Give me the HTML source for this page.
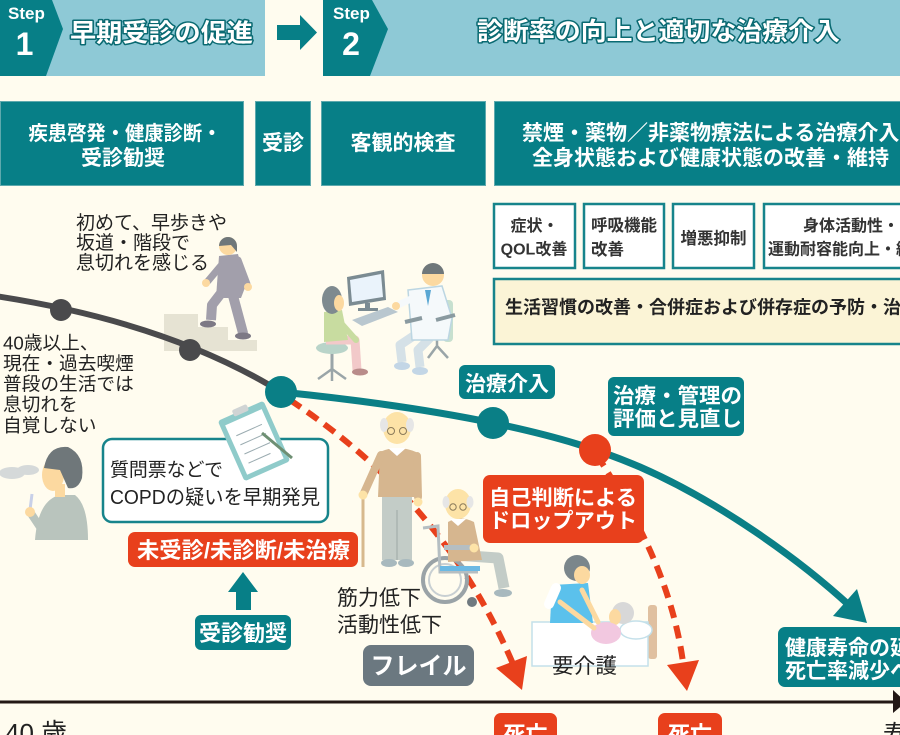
<!DOCTYPE html>
<html><head><meta charset="utf-8">
<style>
html,body{margin:0;padding:0;background:#fffcef;}
svg{display:block;}
text{font-family:"Liberation Sans","Noto Sans CJK JP",sans-serif;}
.w{fill:#fff;font-weight:bold;}
.hd{fill:#fff;font-weight:bold;stroke:#0a6a72;stroke-width:3;paint-order:stroke;stroke-linejoin:round;}
.k{fill:#222;}
.g{fill:#333;font-weight:bold;}
</style></head><body>
<svg width="900" height="735" viewBox="0 0 900 735" xmlns="http://www.w3.org/2000/svg">
<rect width="900" height="735" fill="#fffcef"/>

<!-- HEADER -->
<rect x="40" y="0" width="225" height="76" fill="#8ec9d6"/>
<polygon points="0,0 52,0 63,29 46,76 0,76" fill="#077f87"/>
<text x="8" y="19" class="w" font-size="17">Step</text>
<text x="24.5" y="55" class="w" font-size="32" text-anchor="middle">1</text>
<text x="70" y="41.5" class="hd" font-size="25" textLength="183" lengthAdjust="spacingAndGlyphs">早期受診の促進</text>

<polygon points="277,25 300,25 300,15 317,32.5 300,50 300,40 277,40" fill="#077f87"/>

<rect x="360" y="0" width="540" height="76" fill="#8ec9d6"/>
<polygon points="323,0 372,0 388,29 370,76 323,76" fill="#077f87"/>
<text x="333" y="19" class="w" font-size="17">Step</text>
<text x="351" y="55" class="w" font-size="32" text-anchor="middle">2</text>
<text x="477" y="40" class="hd" font-size="25" textLength="363" lengthAdjust="spacingAndGlyphs">診断率の向上と適切な治療介入</text>

<!-- ROW 2 -->
<g fill="#077f87" stroke="#5ea9ad" stroke-width="1">
<rect x="0.5" y="101.5" width="243" height="84"/>
<rect x="255.5" y="101.5" width="55" height="84"/>
<rect x="321.5" y="101.5" width="164" height="84"/>
<rect x="494.5" y="101.5" width="420" height="84"/>
</g>
<text x="125" y="140" class="w" font-size="20" text-anchor="middle" textLength="193" lengthAdjust="spacingAndGlyphs">疾患啓発・健康診断・</text>
<text x="123" y="165" class="w" font-size="21" text-anchor="middle">受診勧奨</text>
<text x="283" y="150" class="w" font-size="21" text-anchor="middle">受診</text>
<text x="403" y="150" class="w" font-size="21" text-anchor="middle">客観的検査</text>
<text x="522" y="140" class="w" font-size="21">禁煙・薬物／非薬物療法による治療介入</text>
<text x="532" y="165" class="w" font-size="21">全身状態および健康状態の改善・維持</text>

<!-- ROW 3 -->
<g fill="#fff" stroke="#17848b" stroke-width="2.5">
<rect x="494" y="204" width="81" height="64"/>
<rect x="584" y="204" width="80" height="64"/>
<rect x="673" y="204" width="81" height="64"/>
<rect x="764" y="204" width="160" height="64"/>
<rect x="494" y="279" width="430" height="65" fill="#fbf4d6"/>
</g>
<text x="534.5" y="231" class="g" font-size="16" text-anchor="middle">症状・</text>
<text x="534" y="254.5" class="g" font-size="16" text-anchor="middle">QOL改善</text>
<text x="591" y="231" class="g" font-size="16.5">呼吸機能</text>
<text x="591" y="255" class="g" font-size="16.5">改善</text>
<text x="713.5" y="244" class="g" font-size="16.5" text-anchor="middle">増悪抑制</text>
<text x="803" y="231" class="g" font-size="16">身体活動性・</text>
<text x="768" y="254.5" class="g" font-size="16">運動耐容能向上・維持</text>
<text x="505" y="313.5" font-size="18" font-weight="bold" fill="#222">生活習慣の改善・合併症および併存症の予防・治療</text>

<!-- LEFT TEXTS -->
<text x="76" y="229" class="k" font-size="19">初めて、早歩きや</text>
<text x="76" y="249" class="k" font-size="19">坂道・階段で</text>
<text x="76" y="269" class="k" font-size="19">息切れを感じる</text>

<text x="3" y="349.5" class="k" font-size="18.7">40歳以上、</text>
<text x="3" y="370" class="k" font-size="18.7">現在・過去喫煙</text>
<text x="3" y="390.5" class="k" font-size="18.7">普段の生活では</text>
<text x="3" y="411" class="k" font-size="18.7">息切れを</text>
<text x="3" y="432" class="k" font-size="18.7">自覚しない</text>

<!-- STAIRS + WALKER -->
<polygon points="164,314 198,314 198,327 228,327 228,340 257,340 257,351 164,351" fill="#e6e3d3"/>
<path d="M232,292 L243,333" stroke="#a29fab" stroke-width="10" stroke-linecap="round"/>
<ellipse cx="243" cy="336" rx="8" ry="3.5" fill="#7d7985"/>
<path d="M222,292 L212,305 L211,320" stroke="#a29fab" stroke-width="10" fill="none" stroke-linejoin="round"/>
<ellipse cx="208" cy="324" rx="8" ry="3.5" fill="#7d7985"/>
<path d="M219,256 L238,254 L246,285 L241,298 L216,298 Z" fill="#a29fab"/>
<path d="M224,262 L208,281" stroke="#a29fab" stroke-width="7" stroke-linecap="round"/>
<path d="M238,260 L247,284" stroke="#a29fab" stroke-width="7" stroke-linecap="round"/>
<circle cx="206" cy="283" r="4" fill="#fcd9a0"/>
<circle cx="248" cy="287" r="4" fill="#fcd9a0"/>
<circle cx="228" cy="246" r="9" fill="#fcd9a0"/>
<path d="M219,246 A9,9 0 1 1 237,246 L237,252 L231,245 Z" fill="#6f777a"/>

<!-- DOCTOR SCENE -->
<line x1="332" y1="350" x2="332" y2="370" stroke="#9aa5a8" stroke-width="3"/>
<path d="M318,379 L332,369 L346,379 M332,369 L332,381" stroke="#9aa5a8" stroke-width="2.5" fill="none"/>
<ellipse cx="332" cy="348" rx="16" ry="6" fill="#b9d4c9"/>
<path d="M326,340 L355,340 L357,370" stroke="#f2c9c9" stroke-width="9" fill="none" stroke-linejoin="round"/>
<path d="M324,312 L342,310 L348,340 L324,342 Z" fill="#c8dca0"/>
<path d="M340,322 L356,340" stroke="#c8dca0" stroke-width="6" stroke-linecap="round"/>
<ellipse cx="360" cy="372" rx="8" ry="3.5" fill="#b98c8a"/>
<ellipse cx="332" cy="300" rx="10" ry="14" fill="#7e8a8f"/>
<ellipse cx="339" cy="303" rx="5" ry="8" fill="#fcd9a0"/>
<polygon points="347,277 384,270 386,300 349,306" fill="#7b8b92"/>
<polygon points="350,280 381,274 383,297 352,302" fill="#eaf3fb"/>
<rect x="365" y="303" width="5" height="6" fill="#7b8b92"/>
<rect x="358" y="308" width="20" height="3" fill="#7b8b92"/>
<polygon points="352,320 388,307 398,312 362,326" fill="#b9c7cf"/>
<rect x="443" y="300" width="10" height="42" rx="4" fill="#c7e0cf"/>
<path d="M428,358 L437,346 L448,358 M437,346 L437,338" stroke="#9aa5a8" stroke-width="2.5" fill="none"/>
<path d="M415,335 L400,345 L402,362 M430,338 L418,350 L420,367" stroke="#d5e1e7" stroke-width="9" fill="none" stroke-linejoin="round"/>
<path d="M408,290 L442,286 L452,318 L448,340 L412,340 Z" fill="#f5f9fb" stroke="#bcd6e2" stroke-width="1.5"/>
<path d="M411,299 L398,305" stroke="#f5f9fb" stroke-width="7" stroke-linecap="round"/>
<circle cx="396" cy="306" r="4" fill="#fcd9a0"/>
<path d="M425,290 L428,306 L431,290 Z" fill="#5aa7d3"/>
<line x1="405" y1="322" x2="422" y2="318" stroke="#8a9aa0" stroke-width="4"/>
<line x1="436" y1="320" x2="455" y2="315" stroke="#8a9aa0" stroke-width="4"/>
<ellipse cx="402" cy="366" rx="8" ry="4" fill="#c3d6e6"/>
<ellipse cx="420" cy="371" rx="8" ry="4" fill="#c3d6e6"/>
<circle cx="433" cy="275" r="11" fill="#fcd9a0"/>
<path d="M422,274 A11,11 0 0 1 444,274 Z" fill="#6f777a"/>

<!-- SMOKER -->
<ellipse cx="12" cy="473" rx="13" ry="6" fill="#d5d9d9"/>
<ellipse cx="28" cy="470" rx="11" ry="5" fill="#d5d9d9"/>
<path d="M35,540 Q38,500 60,495 L75,495 Q88,505 88,540 Z" fill="#b9c4bd"/>
<path d="M42,530 L30,512" stroke="#b9c4bd" stroke-width="8" stroke-linecap="round"/>
<line x1="32" y1="494" x2="30" y2="510" stroke="#c8d0e8" stroke-width="3"/>
<circle cx="30" cy="512" r="5" fill="#fcd9a0"/>
<rect x="55" y="484" width="10" height="13" fill="#fcd9a0"/>
<ellipse cx="53" cy="475" rx="11" ry="16" fill="#fcd9a0"/>
<path d="M44,468 Q48,445 68,447 Q85,455 82,478 Q78,490 68,488 L60,470 Z" fill="#6f777a"/>

<!-- CURVES -->
<path d="M-5,296 C100,312 200,342 281,392" fill="none" stroke="#4a4a4c" stroke-width="6"/>
<path d="M281,392 C360,400 430,410 493,423 C560,437 600,450 640,467 C720,502 800,560 850,606" fill="none" stroke="#0a7f86" stroke-width="7"/>
<polygon points="833,616 857,589 867,623" fill="#0a7f86"/>

<!-- red dashed -->
<path d="M290,400 C380,460 460,540 513,664" fill="none" stroke="#e8401c" stroke-width="6" stroke-dasharray="13 8"/>
<polygon points="496,668 527,656 522,690" fill="#e8401c"/>
<path d="M597,455 C625,500 670,570 683,662" fill="none" stroke="#e8401c" stroke-width="6" stroke-dasharray="13 8"/>
<polygon points="667,665 699,660 687,691" fill="#e8401c"/>

<!-- dots -->
<circle cx="61" cy="310" r="11" fill="#4a4a4c"/>
<circle cx="190" cy="350" r="11" fill="#4a4a4c"/>
<circle cx="281" cy="392" r="16" fill="#0a7f86"/>
<circle cx="493" cy="423" r="16" fill="#0a7f86"/>
<circle cx="595" cy="450" r="16" fill="#e8401c"/>

<!-- OLD MAN STANDING -->
<line x1="363" y1="497" x2="363" y2="567" stroke="#d7b98d" stroke-width="3"/>
<rect x="382" y="495" width="30" height="65" fill="#c3ccc7"/>
<line x1="397" y1="510" x2="397" y2="560" stroke="#aab5b0" stroke-width="1.5"/>
<ellipse cx="389" cy="563" rx="8" ry="4" fill="#a8b9be"/>
<ellipse cx="406" cy="563" rx="8" ry="4" fill="#a8b9be"/>
<path d="M380,452 Q397,444 416,452 L422,497 L378,497 Z" fill="#d6b68f"/>
<path d="M381,455 L364,493" stroke="#d6b68f" stroke-width="8" stroke-linecap="round"/>
<path d="M417,456 L418,497" stroke="#d6b68f" stroke-width="8" stroke-linecap="round"/>
<circle cx="363" cy="495" r="4.5" fill="#fde3a7"/>
<circle cx="418" cy="502" r="4.5" fill="#fde3a7"/>
<polygon points="388,448 397,456 406,448" fill="#fff"/>
<ellipse cx="397" cy="428" rx="14" ry="16" fill="#fde3a7"/>
<ellipse cx="384" cy="425" rx="4" ry="7" fill="#e6e6e6"/>
<ellipse cx="410" cy="425" rx="4" ry="7" fill="#e6e6e6"/>
<circle cx="391" cy="431" r="3.5" fill="none" stroke="#8a7a5a" stroke-width="1"/>
<circle cx="403" cy="431" r="3.5" fill="none" stroke="#8a7a5a" stroke-width="1"/>

<!-- WHEELCHAIR MAN -->
<circle cx="445" cy="580" r="22" fill="none" stroke="#9aa3a7" stroke-width="4"/>
<circle cx="445" cy="580" r="16" fill="none" stroke="#c8cfd2" stroke-width="2"/>
<path d="M423,528 L438,526 L440,572 L478,572" stroke="#b5bec2" stroke-width="3" fill="none"/>
<rect x="440" y="566" width="40" height="5" fill="#6bb9e3"/>
<circle cx="472" cy="602" r="5" fill="#707a80"/>
<path d="M455,555 L498,558 L504,588" stroke="#c3ccc7" stroke-width="11" fill="none" stroke-linejoin="round"/>
<ellipse cx="503" cy="593" rx="9" ry="4" fill="#a8b9be"/>
<path d="M448,522 Q460,515 474,522 L482,560 L448,562 Z" fill="#d6b68f"/>
<rect x="444" y="545" width="34" height="5" fill="#b5bec2"/>
<circle cx="474" cy="548" r="4.5" fill="#fde3a7"/>
<polygon points="450,519 458,526 466,519" fill="#fff"/>
<ellipse cx="458" cy="504" rx="13" ry="15" fill="#fde3a7"/>
<ellipse cx="446" cy="502" rx="3.5" ry="6" fill="#e6e6e6"/>
<ellipse cx="470" cy="502" rx="3.5" ry="6" fill="#e6e6e6"/>
<circle cx="453" cy="507" r="3.2" fill="none" stroke="#8a7a5a" stroke-width="1"/>
<circle cx="463" cy="507" r="3.2" fill="none" stroke="#8a7a5a" stroke-width="1"/>

<!-- CAREGIVER -->
<rect x="648" y="605" width="9" height="54" rx="3" fill="#e0c0a0"/>
<rect x="532" y="622" width="116" height="44" fill="#fff" stroke="#c4e0ea" stroke-width="1.5"/>
<ellipse cx="636" cy="630" rx="16" ry="9" fill="#fff" stroke="#c4e0ea" stroke-width="1.5"/>
<circle cx="623" cy="613" r="11" fill="#d8d8d8"/>
<ellipse cx="615" cy="617" rx="6" ry="8" fill="#fcd9a0"/>
<ellipse cx="606" cy="633" rx="15" ry="11" fill="#f2c8e0"/>
<path d="M552,585 L588,583 L593,623 L550,623 Z" fill="#5bc1ec"/>
<path d="M556,588 L549,604" stroke="#fff" stroke-width="10" stroke-linecap="round"/>
<path d="M582,590 L598,622" stroke="#fcd9a0" stroke-width="5" stroke-linecap="round"/>
<path d="M560,602 L594,628" stroke="#fcd9a0" stroke-width="5" stroke-linecap="round"/>
<circle cx="577" cy="568" r="13" fill="#7b868b"/>
<ellipse cx="582" cy="575" rx="8" ry="9" fill="#fcd9a0"/>

<!-- COPD BOX + CLIPBOARD -->
<rect x="103" y="439" width="225" height="83" rx="9" fill="#fff" stroke="#17848b" stroke-width="2.5"/>
<text x="110" y="476" class="k" font-size="19" textLength="113" lengthAdjust="spacingAndGlyphs">質問票などで</text>
<text x="110" y="504" class="k" font-size="20" textLength="210" lengthAdjust="spacingAndGlyphs">COPDの疑いを早期発見</text>
<g transform="translate(254,441) rotate(-24)">
<rect x="-25" y="-33" width="50" height="66" rx="3" fill="#8fcbca"/>
<rect x="-20" y="-26" width="40" height="54" fill="#fff"/>
<line x1="-14" y1="-12" x2="14" y2="-12" stroke="#9aabb0" stroke-width="1"/>
<line x1="-14" y1="-2" x2="14" y2="-2" stroke="#9aabb0" stroke-width="1"/>
<line x1="-14" y1="8" x2="14" y2="8" stroke="#9aabb0" stroke-width="1"/>
<line x1="-14" y1="18" x2="10" y2="18" stroke="#9aabb0" stroke-width="1"/>
<rect x="-8" y="-37" width="16" height="7" rx="2" fill="#d0d4d4"/>
</g>
<line x1="262" y1="433" x2="292" y2="458" stroke="#6e8f73" stroke-width="3"/>

<!-- LABELS -->
<rect x="128" y="532" width="230" height="35" rx="7" fill="#e8401c"/>
<text x="137" y="558" class="w" font-size="22" textLength="213" lengthAdjust="spacingAndGlyphs">未受診/未診断/未治療</text>
<polygon points="243,572 258,592 251,592 251,610 236,610 236,592 228,592" fill="#077f87"/>
<rect x="195" y="615" width="96" height="35" rx="6" fill="#077f87"/>
<text x="243" y="641" class="w" font-size="22" text-anchor="middle">受診勧奨</text>

<text x="337" y="605" class="k" font-size="21">筋力低下</text>
<text x="337" y="632" class="k" font-size="21">活動性低下</text>
<rect x="363" y="645" width="111" height="41" rx="8" fill="#6b7880"/>
<text x="418.5" y="674" class="w" font-size="24" text-anchor="middle">フレイル</text>

<rect x="459" y="365" width="96" height="34" rx="6" fill="#077f87"/>
<text x="507" y="391" class="w" font-size="21" text-anchor="middle">治療介入</text>
<rect x="608" y="377" width="136" height="59" rx="6" fill="#077f87"/>
<text x="613" y="403" class="w" font-size="21" textLength="129" lengthAdjust="spacingAndGlyphs">治療・管理の</text>
<text x="613" y="426" class="w" font-size="21" textLength="129" lengthAdjust="spacingAndGlyphs">評価と見直し</text>
<rect x="483" y="475" width="161" height="68" rx="7" fill="#e8401c"/>
<text x="489" y="505" class="w" font-size="21" textLength="148" lengthAdjust="spacingAndGlyphs">自己判断による</text>
<text x="489" y="528" class="w" font-size="21" textLength="148" lengthAdjust="spacingAndGlyphs">ドロップアウト</text>
<rect x="778" y="627" width="140" height="60" rx="7" fill="#077f87"/>
<text x="785" y="655" class="w" font-size="21">健康寿命の延伸</text>
<text x="785" y="678" class="w" font-size="21">死亡率減少へ</text>
<text x="552" y="673" class="k" font-size="21" textLength="65" lengthAdjust="spacingAndGlyphs">要介護</text>

<!-- AXIS -->
<line x1="0" y1="702" x2="894" y2="702" stroke="#231815" stroke-width="3"/>
<polygon points="893,690 906,702 893,713" fill="#231815"/>
<rect x="494" y="713" width="63" height="32" rx="7" fill="#e8401c"/>
<rect x="658" y="713" width="64" height="32" rx="7" fill="#e8401c"/>
<text x="525.5" y="742" class="w" font-size="22" text-anchor="middle">死亡</text>
<text x="690" y="742" class="w" font-size="22" text-anchor="middle">死亡</text>
<text x="5" y="742" class="k" font-size="26">40 歳</text>
<text x="883" y="742" class="k" font-size="24">寿命</text>
</svg>
</body></html>
